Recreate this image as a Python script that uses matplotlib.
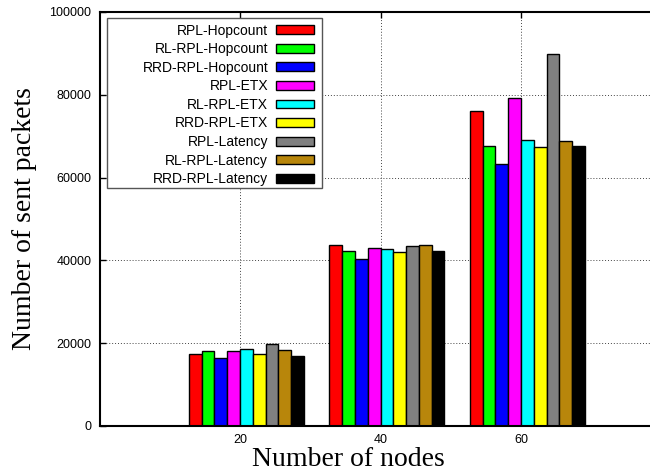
import matplotlib
matplotlib.use('Agg')
import matplotlib.pyplot as plt
from matplotlib.patches import Rectangle
import numpy as np

nodes = ['20', '40', '60']
series = ['RPL-Hopcount', 'RL-RPL-Hopcount', 'RRD-RPL-Hopcount',
          'RPL-ETX', 'RL-RPL-ETX', 'RRD-RPL-ETX',
          'RPL-Latency', 'RL-RPL-Latency', 'RRD-RPL-Latency']
colors = ['#ff0000', '#00ff00', '#0000ff', '#ff00ff', '#00ffff',
          '#ffff00', '#808080', '#b8860b', '#000000']

rpl_hop = [17500, 43750, 76000]
rl_rpl_hop = [18000, 42200, 67600]
rrd_rpl_hop = [16500, 40400, 63400]
rpl_etx = [18000, 43000, 79300]
rl_rpl_etx = [18500, 42700, 69000]
rrd_rpl_etx = [17400, 42000, 67500]
rpl_lat = [19800, 43400, 89800]
rl_rpl_lat = [18300, 43750, 68800]
rrd_rpl_lat = [16800, 42300, 67700]
values = [rpl_hop, rl_rpl_hop, rrd_rpl_hop, rpl_etx, rl_rpl_etx,
          rrd_rpl_etx, rpl_lat, rl_rpl_lat, rrd_rpl_lat]

W, H = 650, 472
fig = plt.figure(figsize=(6.5, 4.72), dpi=100)
x0, x1, y0, y1 = 99.5, 661.5, 426, 12
ax = fig.add_axes([x0 / W, 1 - y0 / H, (x1 - x0) / W, (y0 - y1) / H])

idx = np.arange(len(nodes))
w = 0.091
for j, (name, vals) in enumerate(zip(series, values)):
    ax.bar(idx + (j - 4) * w, vals, width=w, align='edge', color=colors[j],
           edgecolor='black', linewidth=1, label=name, zorder=2)

ax.set_xlim(-1, 3)
ax.set_ylim(0, 100000)
ax.set_xticks(idx)
ax.set_xticklabels(nodes)
ax.set_yticks(np.arange(0, 100001, 20000))
ax.set_axisbelow(True)
ax.grid(True, linestyle=(0, (1, 2)), color='#444444', linewidth=0.7)

ax.tick_params(axis='y', direction='in', length=4.5, width=1, labelsize=9,
               pad=5.8)
ax.tick_params(axis='x', direction='in', length=4.5, width=1, labelsize=9,
               pad=6, top=True)
for lab in ax.get_xticklabels() + ax.get_yticklabels():
    lab.set_family('Liberation Sans')
for s in ['left', 'top', 'bottom']:
    ax.spines[s].set_linewidth(1.5)
ax.spines['right'].set_visible(False)

ax.set_ylabel('Number of sent packets', family='Liberation Serif', fontsize=20,
              va='baseline')
ax.yaxis.set_label_coords((31 - x0) / (x1 - x0), 0.5)
ax.set_xlabel('Number of nodes', family='Liberation Serif', fontsize=20,
              va='baseline')
ax.xaxis.set_label_coords((348 - x0) / (x1 - x0), (y0 - 466.5) / (y0 - y1))

# legend box drawn separately (gnuplot key is wider on the left)
ax.add_patch(Rectangle((107 / W, 1 - 188 / H), 215 / W, 170 / H,
                       transform=fig.transFigure, facecolor='white',
                       edgecolor='#555555', linewidth=1, zorder=3,
                       clip_on=False))
leg = ax.legend(loc='upper right', bbox_to_anchor=(314 / W, 1 - 23.5 / H),
                bbox_transform=fig.transFigure, frameon=False, markerfirst=False,
                borderpad=0, borderaxespad=0, handlelength=2.75,
                handleheight=0.6, handletextpad=0.55, labelspacing=0.33,
                prop={'family': 'Liberation Sans', 'size': 10})
leg.set_zorder(5)

fig.savefig('out.png', dpi=100)
